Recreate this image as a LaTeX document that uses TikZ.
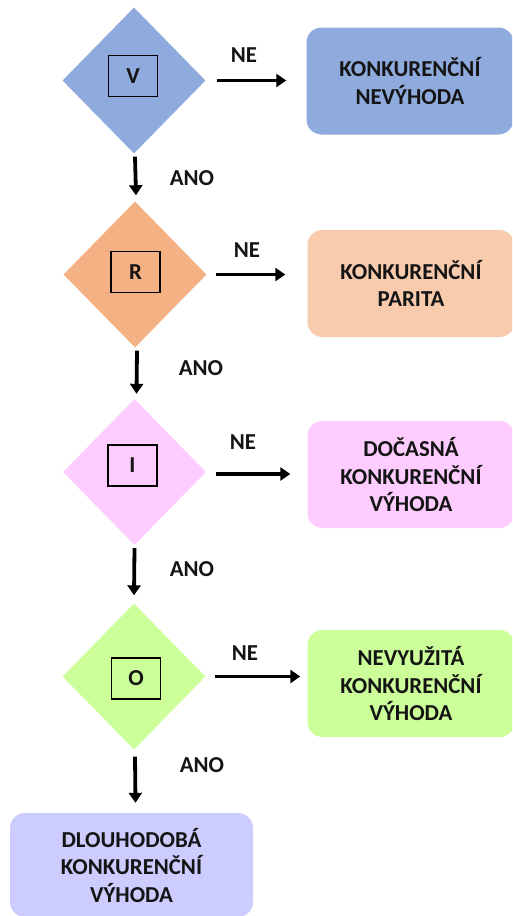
\documentclass[tikz,border=0pt]{standalone}
\usepackage{fontspec}
\setmainfont{Carlito}
\usetikzlibrary{shapes.geometric,arrows.meta,calc}
\definecolor{cblue}{HTML}{8FAADC}
\definecolor{corange}{HTML}{F4B183}
\definecolor{corangel}{HTML}{F8CBAD}
\definecolor{cpink}{HTML}{FFCCFF}
\definecolor{cgreen}{HTML}{CCFF99}
\definecolor{clav}{HTML}{CCCCFF}
\definecolor{ctext}{HTML}{141414}
\tikzset{
  txt/.style={font=\bfseries\fontsize{22.8}{27.5}\selectfont, text=ctext, align=center},
  dia/.style={diamond, draw=none, inner sep=0pt, minimum width=143pt, minimum height=146pt},
  tag/.style={txt, draw=black, line width=1.6pt, inner sep=0pt, minimum width=49pt, minimum height=41pt},
  res/.style={txt, rounded corners=15pt, draw=none, inner sep=0pt, minimum width=207pt, minimum height=107pt},
  arr/.style={line width=3.8pt, black, -{Triangle[length=10pt,width=13pt]}},
  lab/.style={txt}
}
\begin{document}
\begin{tikzpicture}[x=1pt,y=-1pt]
\useasboundingbox (0,0) rectangle (512,916);
\begin{scope}
\clip (0,0) rectangle (512,916);
% diamonds
\node[dia, fill=cblue] (d1) at (134,80.5) {};
\node[dia, fill=corange] (d2) at (135,274.5) {};
\node[dia, fill=cpink] (d3) at (134.5,472) {};
\node[dia, fill=cgreen] (d4) at (134,676.5) {};
% inner tags
\node[tag] (t1) at (133,76) {V};
\node[tag] (t2) at (135.5,272) {R};
\node[tag] (t3) at (132.5,465.5) {I};
\node[tag] (t4) at (136,678.5) {O};
% result boxes
\node[res, fill=cblue] (b1) at (410,81) {KONKURENČNÍ\\NEVÝHODA};
\node[res, fill=corangel] (b2) at (411,283.5) {KONKURENČNÍ\\PARITA};
\node[res, fill=cpink] (b3) at (411,474.5) {DOČASNÁ\\KONKURENČNÍ\\VÝHODA};
\node[res, fill=cgreen] (b4) at (411,683.5) {NEVYUŽITÁ\\KONKURENČNÍ\\VÝHODA};
\node[res, fill=clav, minimum width=243pt, minimum height=104pt] (b5) at (131.5,865) {DLOUHODOBÁ\\KONKURENČNÍ\\VÝHODA};
\end{scope}
% horizontal arrows (NE)
\draw[arr] ($(d1.east)+(11,0)$) -- ($(d1.east -| b1.west)+(-20,0)$);
\draw[arr] ($(d2.east)+(9,0)$) -- ($(d2.east -| b2.west)+(-22,0)$);
\draw[arr] ($(d3.east)+(10,2)$) -- ($(d3.east -| b3.west)+(-17,2)$);
\draw[arr] ($(d4.east)+(9,0)$) -- ($(d4.east -| b4.west)+(-7,0)$);
% vertical arrows (ANO)
\draw[arr] ($(d1.south)+(1,3)$) -- ($(d2.north)+(1,-6)$);
\draw[arr] ($(d2.south)+(2,3)$) -- ($(d3.north)+(2,-5)$);
\draw[arr] ($(d3.south)+(0,3)$) -- ($(d4.north)+(0,-8)$);
\draw[arr] ($(d4.south)+(1,7)$) -- ($(b5.north)+(4,-10)$);
% labels
\node[lab] (ne1) at (244,55) {NE};
\node[lab] (ne2) at (247,250) {NE};
\node[lab] (ne3) at (243,442) {NE};
\node[lab] (ne4) at (245,653) {NE};
\node[lab] (ano1) at (192,178) {ANO};
\node[lab] (ano2) at (201,368) {ANO};
\node[lab] (ano3) at (192,569) {ANO};
\node[lab] (ano4) at (202,765) {ANO};
\end{tikzpicture}
\end{document}
